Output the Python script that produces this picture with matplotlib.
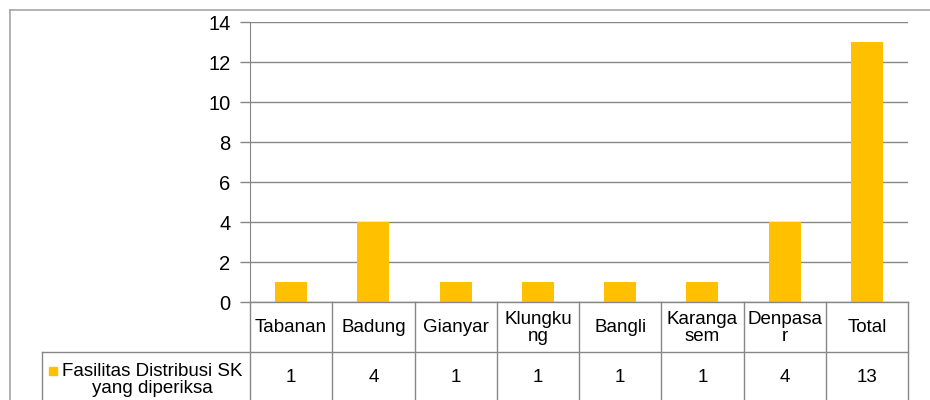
import matplotlib
matplotlib.use("Agg")
import matplotlib.pyplot as plt
from matplotlib.lines import Line2D
from matplotlib.patches import Rectangle
import matplotlib.transforms as mtransforms

categories = ["Tabanan", "Badung", "Gianyar", "Klungku\nng", "Bangli", "Karanga\nsem", "Denpasa\nr", "Total"]
values = [1, 4, 1, 1, 1, 1, 4, 13]
series_name = "Fasilitas Distribusi SK\nyang diperiksa"
yticks = [0, 2, 4, 6, 8, 10, 12, 14]

BAR = "#FFC000"
GRID = "#878787"
FS = 13.5
FS_TICK = 14.5
plt.rcParams["font.family"] = ["Liberation Sans", "DejaVu Sans"]

W, H = 930, 400
fig = plt.figure(figsize=(W / 100, H / 100), dpi=100)

def fx(px):
    return px / W

def fy(py):
    return 1 - py / H

ax_l, ax_r, ax_t, ax_b = 250, 908, 22, 302
ax = fig.add_axes([fx(ax_l), fy(ax_b), fx(ax_r - ax_l), (ax_b - ax_t) / H])

x = list(range(len(categories)))
ax.bar(x, values, width=0.39, color=BAR, zorder=3)
ax.set_xlim(-0.5, len(categories) - 0.5)
ax.set_ylim(0, 14)
ax.set_yticks(yticks)
ax.set_yticklabels([str(t) for t in yticks], fontsize=FS_TICK)
ax.yaxis.grid(True, color=GRID, linewidth=1)
ax.set_axisbelow(True)
ax.set_xticks([])
for s in ["top", "right", "bottom"]:
    ax.spines[s].set_visible(False)
ax.spines["left"].set_color(GRID)
ax.tick_params(axis="y", length=7, width=1, color=GRID, pad=7)

# table
blend = mtransforms.blended_transform_factory(ax.transData, fig.transFigure)
y_top = fy(ax_b)
y_mid = fy(352)
y_bot = fy(410)
n = len(categories)
for i in range(n + 1):
    xb = i - 0.5
    fig.add_artist(Line2D([xb, xb], [y_top, y_bot], transform=blend, color=GRID, lw=1, clip_on=False))
fig.add_artist(Line2D([fx(42), fx(ax_r)], [y_mid, y_mid], transform=fig.transFigure, color=GRID, lw=1))
fig.add_artist(Line2D([fx(ax_l), fx(ax_r)], [y_top, y_top], transform=fig.transFigure, color=GRID, lw=1))
fig.add_artist(Line2D([fx(42), fx(42)], [y_mid, y_bot], transform=fig.transFigure, color=GRID, lw=1))

for i, (c, v) in enumerate(zip(categories, values)):
    fig.text(i, fy(328), c, transform=blend, ha="center", va="center", fontsize=FS, linespacing=1.0)
    fig.text(i, fy(377), str(v), transform=blend, ha="center", va="center", fontsize=FS)

fig.add_artist(Rectangle((fx(49), fy(375)), fx(8), 8 / H, transform=fig.transFigure, color=BAR))
fig.text(fx(152), fy(380), series_name, ha="center", va="center", fontsize=FS, linespacing=1.0)

# outer chart frame
fig.add_artist(Line2D([fx(10), fx(940)], [fy(10), fy(10)], transform=fig.transFigure, color="#A6A6A6", lw=1.2))
fig.add_artist(Line2D([fx(10), fx(10)], [fy(10), fy(410)], transform=fig.transFigure, color="#A6A6A6", lw=1.2))

fig.savefig("out.png", dpi=100)
